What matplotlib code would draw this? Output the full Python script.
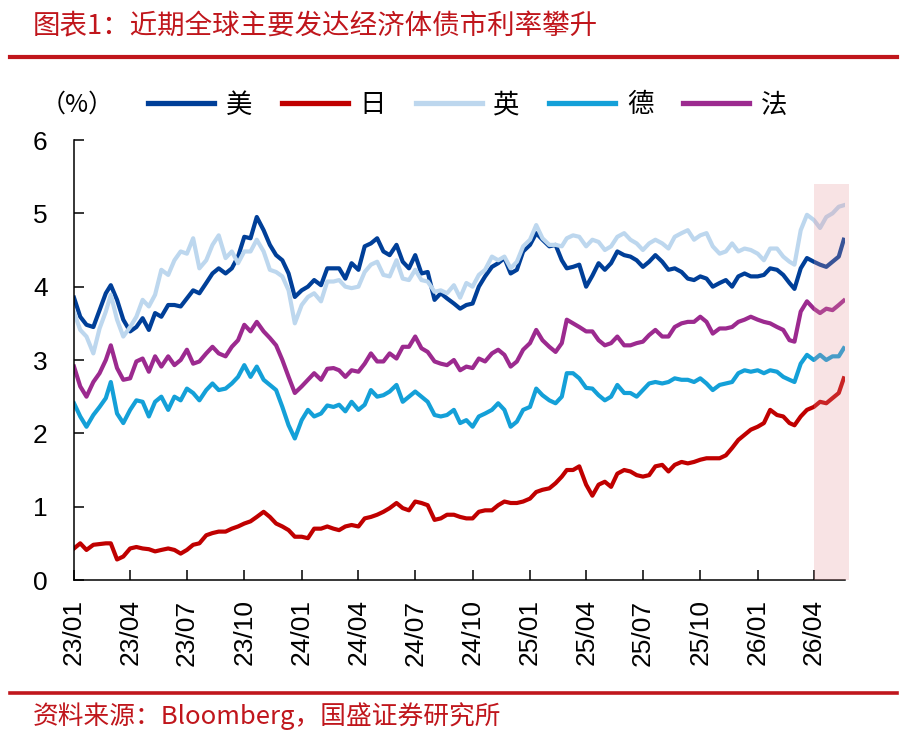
import numpy as np
import pandas as pd
import matplotlib as mpl
mpl.use('Agg')
import matplotlib.pyplot as plt
import matplotlib.dates as mdates
from matplotlib.lines import Line2D
from matplotlib.patches import Rectangle

plt.rcParams['font.family'] = ['Liberation Sans', 'Noto Sans CJK SC']
CJK = ['Noto Sans CJK SC', 'DejaVu Sans']

# ---- data: ~3 readings per month (1st / 11th / 21st), last point 2026-05-19 ----
dates = [f'{y}-{m:02d}-{d:02d}' for y in range(2023, 2027) for m in range(1, 13)
         for d in (1, 11, 21) if (y, m) <= (2026, 5)][:-1] + ['2026-05-19']
dates = pd.to_datetime(dates)

us = [3.85, 3.59, 3.48, 3.45, 3.68, 3.91, 4.02, 3.82, 3.55, 3.39, 3.45, 3.57,
      3.41, 3.64, 3.59, 3.75, 3.75, 3.73, 3.84, 3.95, 3.91, 4.05, 4.18, 4.25,
      4.18, 4.25, 4.41, 4.68, 4.66, 4.95, 4.77, 4.57, 4.43, 4.36, 4.18, 3.86,
      3.95, 4.00, 4.09, 4.02, 4.25, 4.25, 4.25, 4.11, 4.32, 4.23, 4.55, 4.59,
      4.66, 4.48, 4.43, 4.57, 4.34, 4.25, 4.43, 4.18, 4.20, 3.82, 3.91, 3.84,
      3.77, 3.70, 3.75, 3.77, 4.00, 4.14, 4.27, 4.32, 4.39, 4.18, 4.23, 4.48,
      4.57, 4.73, 4.64, 4.55, 4.57, 4.36, 4.25, 4.27, 4.30, 4.00, 4.15, 4.32,
      4.23, 4.32, 4.48, 4.43, 4.41, 4.36, 4.27, 4.34, 4.43, 4.34, 4.23, 4.25,
      4.20, 4.11, 4.09, 4.14, 4.11, 4.00, 4.05, 4.09, 4.00, 4.14, 4.18, 4.14,
      4.14, 4.16, 4.25, 4.23, 4.16, 4.05, 3.97, 4.25, 4.39, 4.34, 4.30, 4.27,
      4.34, 4.41, 4.64]
jp = [0.43, 0.50, 0.41, 0.48, 0.49, 0.50, 0.50, 0.28, 0.32, 0.43, 0.45, 0.43,
      0.42, 0.39, 0.41, 0.43, 0.41, 0.36, 0.41, 0.48, 0.50, 0.61, 0.64, 0.66,
      0.66, 0.70, 0.73, 0.77, 0.80, 0.86, 0.93, 0.86, 0.77, 0.73, 0.68, 0.59,
      0.59, 0.57, 0.70, 0.70, 0.73, 0.70, 0.68, 0.73, 0.75, 0.73, 0.84, 0.86,
      0.89, 0.93, 0.98, 1.05, 0.98, 0.95, 1.07, 1.05, 1.02, 0.82, 0.84, 0.89,
      0.89, 0.86, 0.84, 0.84, 0.93, 0.95, 0.95, 1.02, 1.07, 1.05, 1.05, 1.07,
      1.11, 1.20, 1.23, 1.25, 1.32, 1.41, 1.50, 1.50, 1.55, 1.30, 1.15, 1.30,
      1.34, 1.27, 1.45, 1.50, 1.48, 1.43, 1.41, 1.43, 1.55, 1.57, 1.48, 1.57,
      1.61, 1.59, 1.61, 1.64, 1.66, 1.66, 1.66, 1.70, 1.80, 1.91, 1.98, 2.05,
      2.09, 2.14, 2.32, 2.25, 2.23, 2.14, 2.11, 2.23, 2.32, 2.36, 2.43, 2.41,
      2.48, 2.55, 2.75]
uk = [3.65, 3.41, 3.32, 3.09, 3.43, 3.66, 3.89, 3.55, 3.32, 3.45, 3.59, 3.82,
      3.73, 3.89, 4.23, 4.16, 4.36, 4.48, 4.45, 4.66, 4.25, 4.36, 4.57, 4.70,
      4.39, 4.48, 4.32, 4.48, 4.48, 4.64, 4.48, 4.23, 4.20, 4.14, 3.95, 3.50,
      3.75, 3.86, 3.91, 3.80, 4.07, 4.07, 4.09, 4.00, 3.98, 4.00, 4.20, 4.30,
      4.34, 4.16, 4.14, 4.36, 4.11, 4.09, 4.23, 4.09, 4.07, 3.93, 3.95, 3.91,
      4.02, 3.85, 4.05, 4.00, 4.16, 4.23, 4.41, 4.36, 4.41, 4.25, 4.34, 4.55,
      4.64, 4.84, 4.66, 4.57, 4.57, 4.55, 4.66, 4.70, 4.68, 4.55, 4.64, 4.61,
      4.50, 4.55, 4.68, 4.73, 4.64, 4.59, 4.50, 4.59, 4.64, 4.59, 4.52, 4.68,
      4.73, 4.77, 4.64, 4.70, 4.73, 4.55, 4.45, 4.48, 4.59, 4.48, 4.52, 4.50,
      4.45, 4.36, 4.52, 4.52, 4.41, 4.34, 4.30, 4.77, 4.98, 4.91, 4.80, 4.95,
      5.00, 5.09, 5.11]
de = [2.41, 2.23, 2.09, 2.25, 2.36, 2.48, 2.70, 2.27, 2.14, 2.32, 2.45, 2.43,
      2.23, 2.43, 2.50, 2.32, 2.50, 2.45, 2.61, 2.55, 2.45, 2.59, 2.68, 2.59,
      2.61, 2.68, 2.77, 2.93, 2.77, 2.91, 2.73, 2.66, 2.59, 2.36, 2.11, 1.93,
      2.18, 2.32, 2.23, 2.27, 2.38, 2.36, 2.39, 2.30, 2.43, 2.32, 2.39, 2.59,
      2.50, 2.52, 2.57, 2.66, 2.43, 2.50, 2.57, 2.50, 2.43, 2.25, 2.23, 2.25,
      2.32, 2.14, 2.18, 2.09, 2.23, 2.27, 2.32, 2.41, 2.32, 2.09, 2.16, 2.32,
      2.36, 2.61, 2.52, 2.45, 2.41, 2.50, 2.82, 2.82, 2.75, 2.62, 2.61, 2.52,
      2.45, 2.50, 2.66, 2.55, 2.55, 2.50, 2.59, 2.68, 2.70, 2.68, 2.70, 2.75,
      2.73, 2.73, 2.70, 2.75, 2.68, 2.59, 2.66, 2.68, 2.70, 2.82, 2.86, 2.84,
      2.86, 2.82, 2.86, 2.84, 2.77, 2.73, 2.70, 2.95, 3.07, 3.00, 3.07, 3.00,
      3.05, 3.05, 3.16]
fr = [2.91, 2.64, 2.50, 2.70, 2.82, 3.00, 3.20, 2.89, 2.73, 2.75, 2.98, 3.02,
      2.84, 3.05, 2.91, 3.05, 2.93, 3.00, 3.14, 2.95, 2.98, 3.09, 3.18, 3.09,
      3.05, 3.18, 3.27, 3.48, 3.39, 3.52, 3.39, 3.30, 3.20, 3.00, 2.77, 2.55,
      2.64, 2.73, 2.82, 2.73, 2.88, 2.89, 2.86, 2.77, 2.86, 2.84, 2.95, 3.09,
      2.98, 2.98, 3.09, 3.02, 3.18, 3.18, 3.32, 3.16, 3.11, 2.98, 2.95, 2.93,
      3.00, 2.86, 2.91, 2.89, 3.02, 2.98, 3.09, 3.14, 3.07, 2.91, 2.98, 3.14,
      3.23, 3.41, 3.27, 3.18, 3.11, 3.23, 3.55, 3.50, 3.45, 3.39, 3.39, 3.27,
      3.20, 3.23, 3.32, 3.20, 3.20, 3.23, 3.25, 3.34, 3.41, 3.32, 3.32, 3.45,
      3.50, 3.52, 3.52, 3.59, 3.52, 3.36, 3.43, 3.43, 3.45, 3.52, 3.55, 3.59,
      3.55, 3.52, 3.50, 3.45, 3.41, 3.27, 3.25, 3.66, 3.80, 3.70, 3.64, 3.70,
      3.68, 3.75, 3.81]

names = ['美', '日', '英', '德', '法']
series = [us, jp, uk, de, fr]
colors = ['#003F98', '#C00000', '#BDD7EE', '#14A0D8', '#9C2A8F']

RED = '#C0161C'

fig = plt.figure(figsize=(9.05, 7.42), dpi=100)
W, H = 905, 742
ax = fig.add_axes([74 / W, (H - 580) / H, 771 / W, 440 / H])

for nm, vals, col in zip(names, series, colors):
    ax.plot(dates, vals, color=col, lw=3.0, label=nm, solid_joinstyle='round')

# shaded recent window (drawn over the lines)
x0 = mdates.date2num(pd.Timestamp('2026-04-01'))
x1 = mdates.date2num(pd.Timestamp('2026-05-27'))
shade = Rectangle((x0, 0), x1 - x0, 5.4, facecolor='#E79397', alpha=0.25,
                  edgecolor='none', zorder=5, clip_on=False)
ax.add_patch(shade)

ax.set_xlim(pd.Timestamp('2023-01-01'), pd.Timestamp('2026-05-21'))
ax.set_ylim(0, 6)
ax.set_yticks(range(7))
ax.xaxis.set_major_locator(mdates.MonthLocator(bymonth=[1, 4, 7, 10]))
ax.xaxis.set_major_formatter(mdates.DateFormatter('%y/%m'))
ax.tick_params(axis='x', direction='in', length=7, width=1.1, pad=14,
               labelsize=19, labelrotation=90)
ax.tick_params(axis='y', direction='in', length=7, width=1.1, pad=19, labelsize=19)
for s in ('top', 'right'):
    ax.spines[s].set_visible(False)
for s in ('left', 'bottom'):
    ax.spines[s].set_linewidth(1.1)

leg = ax.legend(ncol=5, loc='center left', bbox_to_anchor=(74 / 771, 1 + 35 / 440),
                frameon=False, handlelength=2.5, handletextpad=0.45, columnspacing=1.12,
                borderaxespad=0, borderpad=0, prop={'family': CJK, 'size': 19})
for h in leg.legend_handles:
    h.set_linewidth(3.8)

fig.text(77 / W, 1 - 105 / H, '（%）', ha='center', va='center', fontsize=18,
         family=CJK)

# header / footer
fig.text(33 / W, 1 - 27 / H, '图表1：近期全球主要发达经济体债市利率攀升',
         ha='left', va='center', fontsize=19.8, color=RED, family=CJK)
fig.add_artist(Line2D([10 / W, 897 / W], [1 - 57 / H] * 2, color=RED, lw=3.0))
fig.add_artist(Line2D([10 / W, 897 / W], [1 - 693 / H] * 2, color=RED, lw=2.6))
fig.text(33 / W, 1 - 716 / H, '资料来源：Bloomberg，国盛证券研究所',
         ha='left', va='center', fontsize=18.5, color=RED, family=CJK)

fig.savefig('out.png', dpi=100)
